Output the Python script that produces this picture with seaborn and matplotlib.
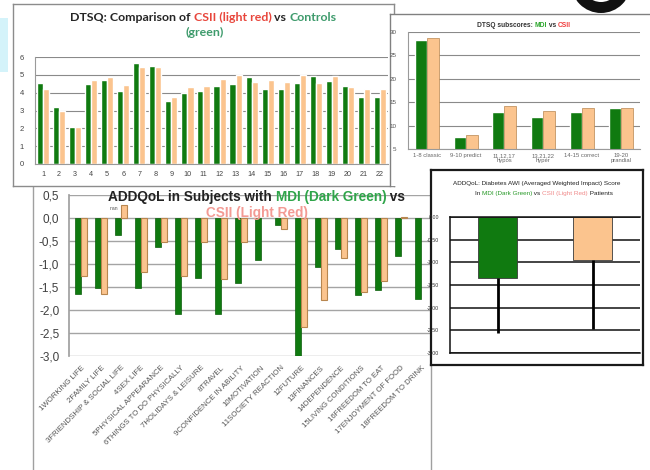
import numpy as np
import pandas as pd
import matplotlib
matplotlib.use("Agg")
import matplotlib.pyplot as plt
import seaborn as sns
from matplotlib.patches import Rectangle, Circle

# ---------------------------------------------------------------- data
dtsq_items = [str(i) for i in range(1, 23)]
dtsq_controls = [4.55, 3.20, 2.05, 4.48, 4.72, 4.12, 5.67, 5.48, 3.52, 3.98, 4.10,
                 4.40, 4.48, 4.86, 4.22, 4.20, 4.54, 4.92, 4.67, 4.35, 3.78, 3.78]
dtsq_csii = [4.20, 2.98, 2.05, 4.72, 4.88, 4.45, 5.44, 5.44, 3.78, 4.30, 4.38,
             4.76, 5.00, 4.62, 4.72, 4.58, 5.00, 4.54, 4.95, 4.30, 4.18, 4.18]

sub_labels = ["1-8 classic", "9-10 predict", "11,12,17\nhypos", "13,21,22\nhyper",
              "14-15 correct", "19-20\nprandial"]
sub_mdi = [28.3, 7.6, 12.8, 11.9, 13.0, 13.7]
sub_csii = [28.8, 8.0, 14.2, 13.2, 13.7, 13.7]

addqol_domains = ["1WORKING LIFE", "2FAMILY LIFE", "3FRIENDSHIP & SOCIAL LIFE", "4SEX LIFE",
                  "5PHYSICAL APPEARANCE", "6THINGS TO DO PHYSICALLY", "7HOLIDAYS & LEISURE",
                  "8TRAVEL", "9CONFIDENCE IN ABILITY", "10MOTIVATION", "11SOCIETY REACTION",
                  "12FUTURE", "13FINANCES", "14DEPENDENCE", "15LIVING CONDITIONS",
                  "16FREEDOM TO EAT", "17ENJOYMENT OF FOOD", "18FREEDOM TO DRINK"]
addqol_mdi = [-1.65, -1.52, -0.38, -1.52, -0.62, -2.08, -1.31, -2.08, -1.41, -0.91,
              -0.16, -3.00, -1.07, -0.67, -1.68, -1.56, -0.83, -1.75]
addqol_csii = [-1.27, -1.65, 0.29, -1.18, -0.53, -1.27, -0.53, -1.33, -0.53, np.nan,
               -0.24, -2.37, -1.79, -0.88, -1.60, -1.36, 0.02, np.nan]
nan_note_item = 2  # domain carrying the "nan" data label

awi_groups = ["MDI", "CSII"]
awi_scores = [-1.35, -0.95]
awi_err = [1.20, 1.52]

GREEN = "#107a10"
PEACH = "#fbc48e"
PEACH_EDGE = "#b8864f"

# ---------------------------------------------------------------- figure
sns.set_theme(style="white")
plt.rcParams["font.family"] = ["Liberation Sans", "DejaVu Sans"]

W, H = 650, 470
fig = plt.figure(figsize=(6.5, 4.7), dpi=100)
fig.patch.set_facecolor("white")


def axes_px(x0, y0, x1, y1, z):
    ax = fig.add_axes([x0 / W, 1 - y1 / H, (x1 - x0) / W, (y1 - y0) / H])
    ax.set_zorder(z)
    return ax


def panel(x0, y0, x1, y1, z, color, lw, sides=("left", "right", "top", "bottom")):
    ax = axes_px(x0, y0, x1, y1, z)
    ax.set_xticks([])
    ax.set_yticks([])
    ax.set_facecolor("white")
    for s, sp in ax.spines.items():
        sp.set_visible(s in sides)
        sp.set_color(color)
        sp.set_linewidth(lw)
    return ax


def rich_line(ax, x_px, y_px, segments, **kw):
    prev = None
    for text, color in segments:
        if prev is None:
            prev = ax.text(x_px / W, 1 - y_px / H, text, color=color, ha="left",
                           va="bottom", transform=fig.transFigure, **kw)
        else:
            prev = ax.annotate(text, xy=(1, 0), xycoords=prev, color=color,
                               ha="left", va="bottom", **kw)
    return prev


def long_form(labels, a, b, name_a, name_b):
    return pd.DataFrame({
        "item": list(labels) * 2,
        "group": [name_a] * len(labels) + [name_b] * len(labels),
        "value": list(a) + list(b),
    })


# ---------------------------------------------------------------- ADDQoL domains
p3 = panel(33, 186, 431, 475, 0, "#a0a0a0", 1.0, sides=("left", "right"))
ax3 = axes_px(69, 195, 431, 356, 1)
ax3.patch.set_alpha(0)
df3 = long_form(addqol_domains, addqol_mdi, addqol_csii, "MDI", "CSII")
sns.barplot(data=df3, x="item", y="value", hue="group", order=addqol_domains,
            hue_order=["MDI", "CSII"], palette={"MDI": GREEN, "CSII": PEACH},
            width=0.62, saturation=1, legend=False, ax=ax3)
for bar in ax3.containers[0]:
    bar.set_edgecolor("#0b5e0b")
    bar.set_linewidth(0.5)
for bar in ax3.containers[1]:
    bar.set_edgecolor(PEACH_EDGE)
    bar.set_linewidth(0.8)
ax3.set_ylim(-3.0, 0.5)
ax3.set_xlim(-0.6, 17.5)
yt3 = np.arange(-3.0, 0.51, 0.5)
ax3.set_yticks(yt3)
ax3.set_yticklabels([f"{v:.1f}".replace(".", ",") for v in yt3], fontsize=8.5, color="#404040")
ax3.yaxis.grid(True, color="#a4a4a4", lw=1.0)
ax3.set_axisbelow(True)
for s, sp in ax3.spines.items():
    sp.set_visible(s == "left")
    sp.set_color("#a0a0a0")
ax3.tick_params(axis="y", length=3, color="#a0a0a0", pad=4)
ax3.tick_params(axis="x", length=0, pad=6)
ax3.set_xticks(range(len(addqol_domains)))
ax3.set_xticklabels(addqol_domains, rotation=45, ha="right", va="top",
                    rotation_mode="anchor", fontsize=5.6, color="#555555")
ax3.set_xlabel("")
ax3.set_ylabel("")
ax3.annotate("nan", xy=(nan_note_item + 0.12, addqol_csii[nan_note_item]),
             xytext=(-4, -3), textcoords="offset points", ha="right", va="center",
             fontsize=3.6, color="#555555")
rich_line(ax3, 108, 204, [("ADDQoL in Subjects with ", "#222222"),
                          ("MDI (Dark Green)", "#2fa54a"), (" vs", "#222222")],
          fontsize=9.8, fontweight="bold")
ax3.text(257 / W, 1 - 213 / H, "CSII (Light Red)", color="#f39a94", fontsize=9.8,
         fontweight="bold", ha="center", va="center", transform=fig.transFigure)

# ---------------------------------------------------------------- DTSQ items
p1 = panel(13, 4, 394, 186, 2, "#8c8c8c", 1.0)
ax1 = axes_px(35, 57, 388, 164, 3)
df1 = long_form(dtsq_items, dtsq_controls, dtsq_csii, "Controls", "CSII")
sns.barplot(data=df1, x="item", y="value", hue="group", order=dtsq_items,
            hue_order=["Controls", "CSII"], palette={"Controls": GREEN, "CSII": PEACH},
            width=0.76, saturation=1, legend=False, ax=ax1)
ax1.set_ylim(0, 6)
ax1.set_xlim(-0.5, 21.5)
ax1.set_yticks(range(0, 7))
ax1.set_yticklabels([str(v) for v in range(0, 7)], fontsize=5.5, color="#444444")
ax1.yaxis.grid(True, color="#8a8a8a", lw=0.8)
ax1.set_axisbelow(True)
for s, sp in ax1.spines.items():
    sp.set_visible(s in ("left", "bottom"))
    sp.set_color("#9a9a9a")
    sp.set_linewidth(0.8)
ax1.tick_params(axis="y", length=0, pad=8)
ax1.tick_params(axis="x", length=2, color="#9a9a9a", pad=3)
ax1.set_xticklabels(dtsq_items, fontsize=5.2, color="#444444")
ax1.set_xlabel("")
ax1.set_ylabel("")
rich_line(ax1, 70, 23, [("DTSQ: Comparison of ", "#262626"),
                        ("CSII (light red)", "#e8463c"), (" vs ", "#262626"),
                        ("Controls", "#3e9b6c")],
          fontsize=8.9, fontweight="bold", family=["Lato", "DejaVu Sans"])
ax1.text(205 / W, 1 - 32 / H, "(green)", color="#3e9b6c", fontsize=8.9,
         fontweight="bold", ha="center", va="center", transform=fig.transFigure,
         family=["Lato", "DejaVu Sans"])

# ---------------------------------------------------------------- DTSQ subscores
p2 = panel(390, 14, 655, 186, 4, "#808080", 1.0, sides=("left", "top"))
ax2 = axes_px(407.6, 32, 640, 149, 5)
df2 = long_form(sub_labels, sub_mdi, sub_csii, "MDI", "CSII")
sns.barplot(data=df2, x="item", y="value", hue="group", order=sub_labels,
            hue_order=["MDI", "CSII"], palette={"MDI": GREEN, "CSII": PEACH},
            width=0.62, saturation=1, legend=False, ax=ax2)
for bar in ax2.containers[1]:
    bar.set_edgecolor(PEACH_EDGE)
    bar.set_linewidth(0.5)
ax2.set_ylim(5, 30)
ax2.set_xlim(-0.5, 5.5)
ax2.set_yticks(range(5, 31, 5))
ax2.set_yticklabels([str(v) for v in range(5, 31, 5)], fontsize=4.5, color="#555555")
ax2.yaxis.grid(True, color="#8a8a8a", lw=0.8)
ax2.set_axisbelow(True)
for s, sp in ax2.spines.items():
    sp.set_visible(s in ("left", "bottom"))
    sp.set_color("#9a9a9a")
    sp.set_linewidth(0.8)
ax2.tick_params(axis="y", length=0, pad=8)
ax2.tick_params(axis="x", length=0, pad=3)
ax2.set_xticklabels(sub_labels, fontsize=4.2, color="#666666", linespacing=0.95)
ax2.set_xlabel("")
ax2.set_ylabel("")
rich_line(ax2, 477, 29, [("DTSQ subscores: ", "#333333"), ("MDI", "#2aa52a"),
                         (" vs ", "#333333"), ("CSII", "#f03c3c")],
          fontsize=4.8, fontweight="bold")

# ---------------------------------------------------------------- ADDQoL AWI score
p4 = panel(431, 170, 643, 365, 6, "#1a1a1a", 1.6)
ax4 = axes_px(450, 217, 640, 353, 7)
df4 = pd.DataFrame({"group": awi_groups, "value": awi_scores})
sns.barplot(data=df4, x="group", y="value", hue="group", order=awi_groups,
            palette={"MDI": GREEN, "CSII": PEACH}, width=0.42, saturation=1,
            legend=False, ax=ax4)
for bar in ax4.patches:
    bar.set_edgecolor("#3a3a3a")
    bar.set_linewidth(0.6)
ax4.errorbar(x=range(len(awi_groups)), y=awi_scores, yerr=[awi_err, [0] * len(awi_err)],
             fmt="none", ecolor="black", elinewidth=2.0, capsize=0, zorder=5)
ax4.set_ylim(-3.0, 0.0)
ax4.set_xlim(-0.5, 1.5)
yt4 = np.arange(-3.0, 0.01, 0.5)
ax4.set_yticks(yt4)
ax4.set_yticklabels([f"{v:.2f}" if v != 0 else "0.00" for v in yt4], fontsize=3.8,
                    color="#333333")
ax4.yaxis.grid(True, color="#111111", lw=1.1)
ax4.set_axisbelow(True)
for s, sp in ax4.spines.items():
    sp.set_visible(s in ("left", "bottom", "top"))
    sp.set_color("#111111")
    sp.set_linewidth(1.1)
ax4.tick_params(axis="y", length=0, pad=8)
ax4.set_xticks([])
ax4.set_xlabel("")
ax4.set_ylabel("")
ax4.text(537 / W, 1 - 183 / H, "ADDQoL: Diabetes AWI (Averaged Weighted Impact) Score",
         color="#222222", fontsize=4.6, ha="center", va="center", transform=fig.transFigure)
rich_line(ax4, 475, 196, [("In ", "#222222"), ("MDI (Dark Green)", "#2a9a2a"),
                          (" vs ", "#222222"), ("CSII (Light Red)", "#f08a8a"),
                          (" Patients", "#222222")],
          fontsize=4.6)

# ---------------------------------------------------------------- slide decorations
deco = axes_px(0, 0, W, H, 8)
deco.set_xlim(0, W)
deco.set_ylim(H, 0)
deco.axis("off")
deco.patch.set_alpha(0)
deco.add_patch(Rectangle((0, 18), 8, 54, color="#d4f3fa", lw=0))
deco.add_patch(Circle((601, -17), 30, color="#111111", lw=0))
deco.add_patch(Circle((601, -17), 19, color="white", lw=0))
deco.add_patch(Circle((601, -17), 17, color="#111111", lw=0))

fig.savefig("out.png", dpi=100, facecolor="white")
